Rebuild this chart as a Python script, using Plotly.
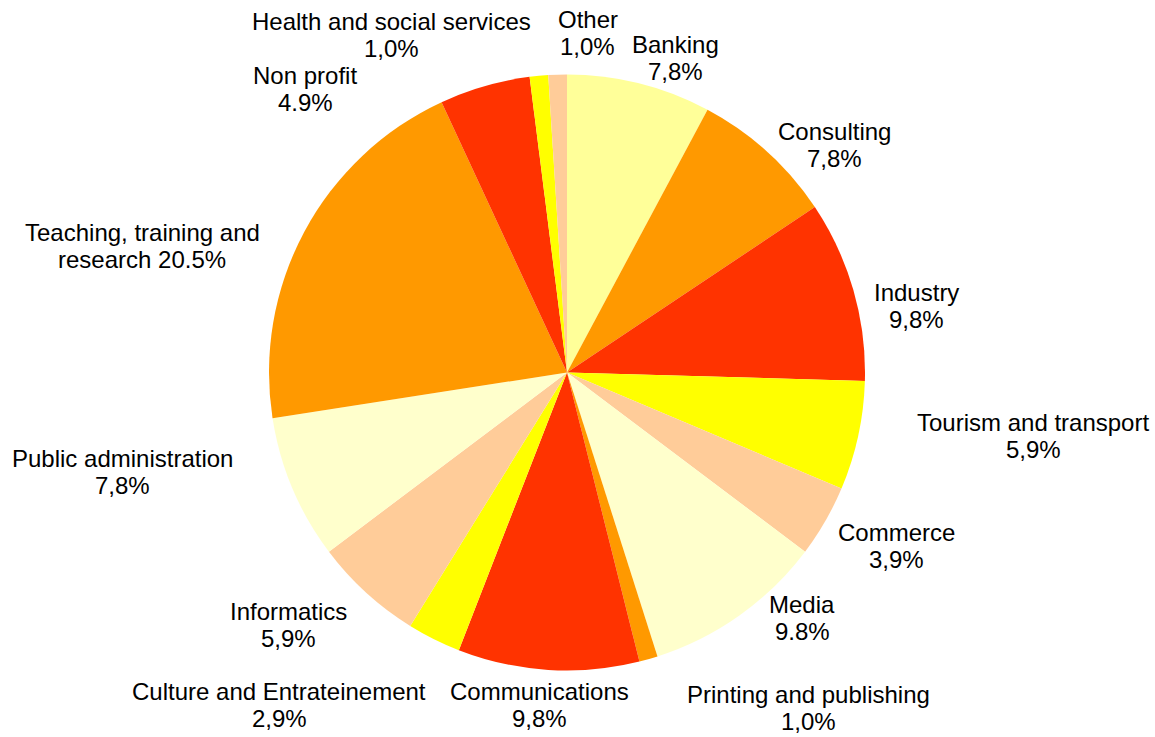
import plotly.graph_objects as go

W, H = 1155, 737

sectors = [
    "Banking", "Consulting", "Industry", "Tourism and transport", "Commerce",
    "Media", "Printing and publishing", "Communications", "Culture and Entrateinement",
    "Informatics", "Public administration", "Teaching, training and research",
    "Non profit", "Health and social services", "Other",
]
shares = [7.8, 7.8, 9.8, 5.9, 3.9, 9.8, 1.0, 9.8, 2.9, 5.9, 7.8, 20.5, 4.9, 1.0, 1.0]
# label text exactly as printed on the chart (mixed decimal marks)
label_text = [
    "Banking<br>7,8%", "Consulting<br>7,8%", "Industry<br>9,8%",
    "Tourism and transport<br>5,9%", "Commerce<br>3,9%", "Media<br>9.8%",
    "Printing and publishing<br>1,0%", "Communications<br>9,8%",
    "Culture and Entrateinement<br>2,9%", "Informatics<br>5,9%",
    "Public administration<br>7,8%", "Teaching, training and<br>research 20.5%",
    "Non profit<br>4.9%", "Health and social services<br>1,0%", "Other<br>1,0%",
]
colors = ["#FFFF99", "#FF9900", "#FF3300", "#FFFF00", "#FFCC99",
          "#FFFFCC", "#FF9900", "#FF3300", "#FFFF00", "#FFCC99",
          "#FFFFCC", "#FF9900", "#FF3300", "#FFFF00", "#FFCC99"]

# where each label block sits (pixel centres), as laid out in the original
label_pos = [
    (675, 58), (835, 145), (916, 306), (1033, 436), (896, 546),
    (802, 618), (808, 708), (539, 705), (279, 705), (288, 625),
    (123, 472), (142, 246), (305, 89), (391, 35), (588, 33),
]

cx, cy, r = 567, 372.5, 298
line_gap = 26.5

fig = go.Figure(go.Pie(
    labels=sectors, values=shares, sort=False, direction="clockwise", rotation=0,
    marker=dict(colors=colors, line=dict(width=0)),
    textinfo="none", hoverinfo="label+percent", showlegend=False,
    domain=dict(x=[(cx - r) / W, (cx + r) / W], y=[(H - cy - r) / H, (H - cy + r) / H]),
))

for txt, (px, py) in zip(label_text, label_pos):
    lines = txt.split("<br>")
    n = len(lines)
    for i, line in enumerate(lines):
        ly = py + (i - (n - 1) / 2) * line_gap
        fig.add_annotation(
            text=line, x=px / W, y=1 - ly / H, xref="paper", yref="paper",
            xanchor="center", yanchor="middle", showarrow=False,
            font=dict(family="Liberation Sans, Arial, sans-serif", size=24, color="#000000"),
        )

fig.update_layout(
    width=W, height=H, margin=dict(l=0, r=0, t=0, b=0),
    paper_bgcolor="white", plot_bgcolor="white",
)

# drop the default page margin so the figure fills the window exactly
fig.write_html(
    "out.html",
    config={"displayModeBar": False},
    post_script="document.body.style.margin='0';document.body.style.overflow='hidden';",
)
